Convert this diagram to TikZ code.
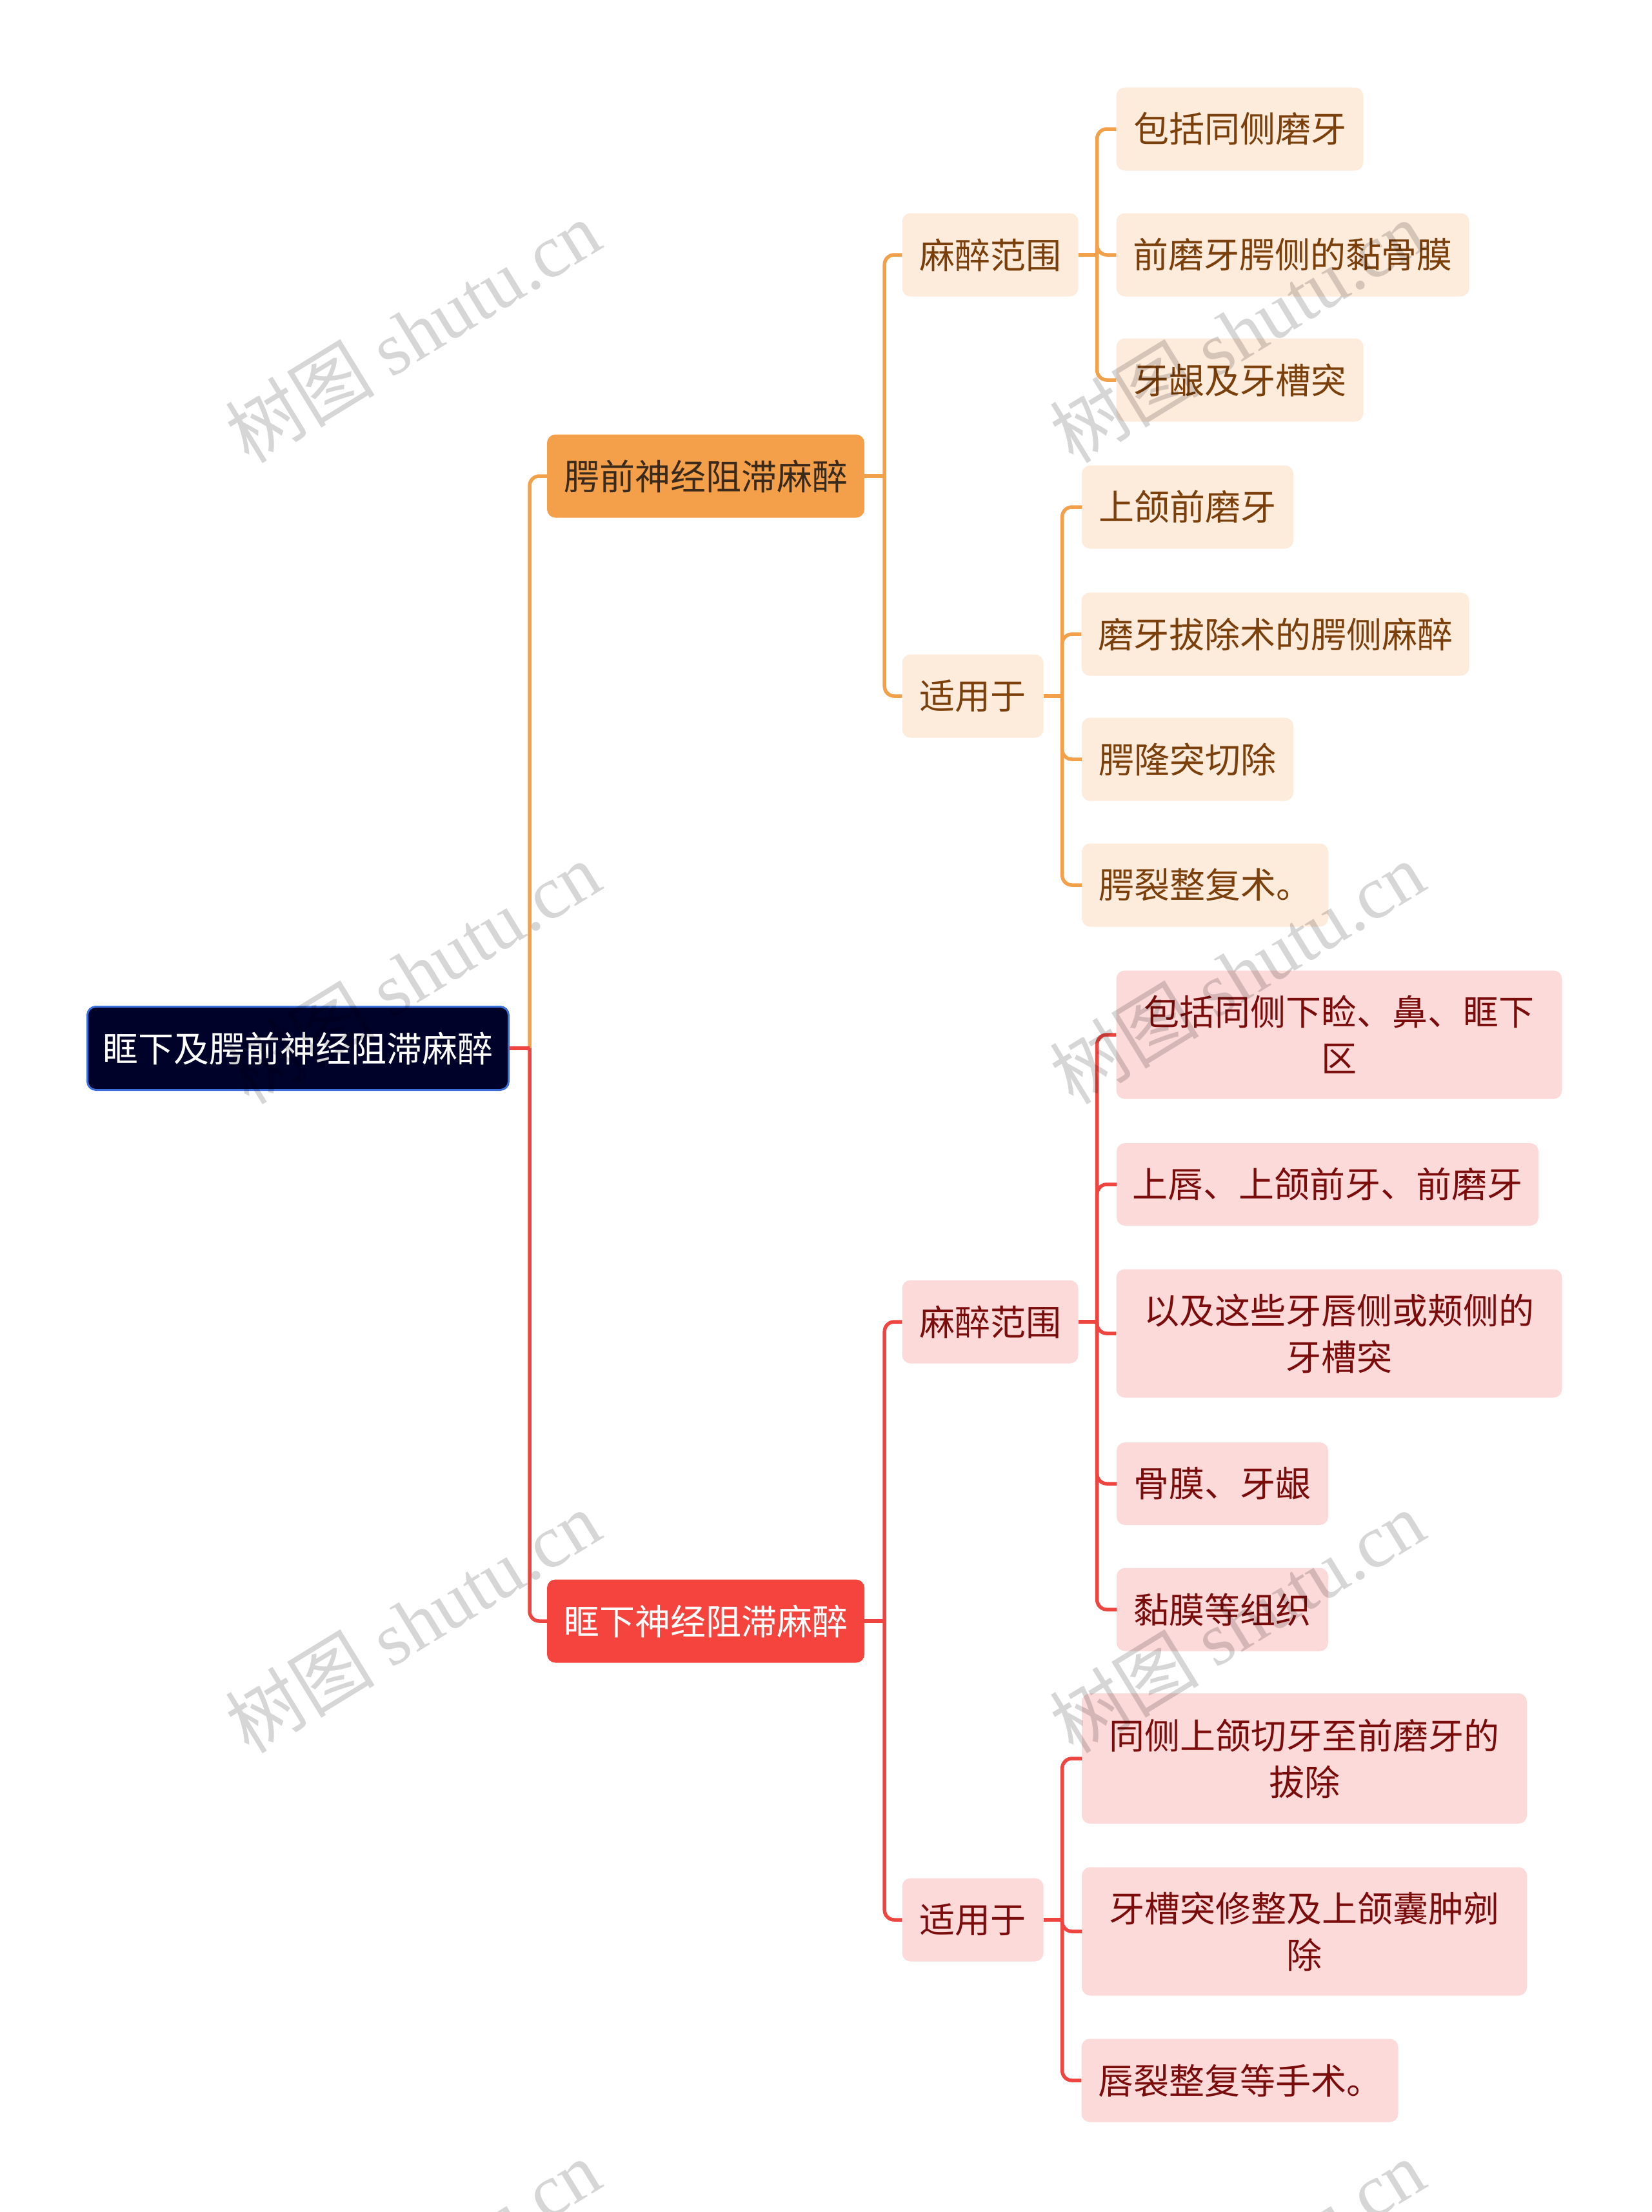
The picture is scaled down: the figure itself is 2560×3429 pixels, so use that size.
\documentclass[tikz,border=0pt]{standalone}
\usepackage{fontspec}
\setmainfont{Noto Sans CJK SC}
\newfontfamily\wmlatin{Liberation Serif}
\newfontfamily\wmcjk{Noto Sans CJK SC}
\definecolor{rootfill}{HTML}{000229}
\definecolor{rootline}{HTML}{3C6FD9}
\definecolor{orfill}{HTML}{F4A04B}
\definecolor{ortext}{HTML}{3A2A1C}
\definecolor{orleaf}{HTML}{FDEBDC}
\definecolor{orleaftext}{HTML}{7B3F0B}
\definecolor{orline}{HTML}{F3A04B}
\definecolor{rdfill}{HTML}{F5443E}
\definecolor{rdleaf}{HTML}{FDDADA}
\definecolor{rdleaftext}{HTML}{7A0C0C}
\definecolor{rdline}{HTML}{EE4540}
\tikzset{
  box/.style={rounded corners=13pt, inner sep=0pt, font=\fontsize{55}{72}\selectfont, align=center},
  rootbox/.style={box, fill=rootfill, draw=rootline, line width=3pt, text=white},
  orbranch/.style={box, fill=orfill, text=ortext},
  orleafbox/.style={box, fill=orleaf, text=orleaftext},
  rdbranch/.style={box, fill=rdfill, text=white},
  rdleafbox/.style={box, fill=rdleaf, text=rdleaftext},
  orcon/.style={draw=orline, line width=5.5pt, rounded corners=15pt},
  rdcon/.style={draw=rdline, line width=5.5pt, rounded corners=15pt},
  wm/.style={text=black, opacity=0.16, rotate=31.5, font=\fontsize{116}{116}\selectfont}
}
\newcommand{\bx}[7]{\node[#1, minimum width=#5pt, minimum height=#6pt] (#2) at (#3,#4) {#7};}
\begin{document}
\begin{tikzpicture}[x=1pt,y=-1pt]
\useasboundingbox (0,0) rectangle (2560,3429);
\fill[white] (0,0) rectangle (2560,3429);
% root
\bx{rootbox}{root}{462}{1625}{653}{129}{眶下及腭前神经阻滞麻醉}
% branches
\bx{orbranch}{b1}{1094}{738}{492}{129}{腭前神经阻滞麻醉}
\bx{rdbranch}{b2}{1094}{2513}{492}{129}{眶下神经阻滞麻醉}
% orange level 2
\bx{orleafbox}{o1}{1535}{395}{273}{129}{麻醉范围}
\bx{orleafbox}{o2}{1508}{1079}{219}{129}{适用于}
% orange leaves
\bx{orleafbox}{o11}{1922}{200}{383}{129}{包括同侧磨牙}
\bx{orleafbox}{o12}{2004}{395}{547}{129}{前磨牙腭侧的黏骨膜}
\bx{orleafbox}{o13}{1922}{589}{383}{129}{牙龈及牙槽突}
\bx{orleafbox}{o21}{1841}{786}{328}{129}{上颌前磨牙}
\bx{orleafbox}{o22}{1977}{983}{601}{129}{磨牙拔除术的腭侧麻醉}
\bx{orleafbox}{o23}{1841}{1177}{328}{129}{腭隆突切除}
\bx{orleafbox}{o24}{1868}{1372}{382}{129}{腭裂整复术。}
% red level 2
\bx{rdleafbox}{r1}{1535}{2049}{273}{129}{麻醉范围}
\bx{rdleafbox}{r2}{1508}{2976}{219}{129}{适用于}
% red leaves
\bx{rdleafbox}{r11}{2076}{1604}{691}{199}{包括同侧下睑、鼻、眶下\\区}
\bx{rdleafbox}{r12}{2058}{1836}{654}{128}{上唇、上颌前牙、前磨牙}
\bx{rdleafbox}{r13}{2076}{2067}{691}{199}{以及这些牙唇侧或颊侧的\\牙槽突}
\bx{rdleafbox}{r14}{1895}{2300}{328}{128}{骨膜、牙龈}
\bx{rdleafbox}{r15}{1895}{2495}{328}{129}{黏膜等组织}
\bx{rdleafbox}{r21}{2022}{2726}{690}{202}{同侧上颌切牙至前磨牙的\\拔除}
\bx{rdleafbox}{r22}{2022}{2994}{690}{199}{牙槽突修整及上颌囊肿剜\\除}
\bx{rdleafbox}{r23}{1922}{3225}{491}{129}{唇裂整复等手术。}
% connectors
\coordinate (jroot) at ([xshift=31pt]root.east);
\draw[orcon] (jroot) |- (b1.west);
\draw[rdcon] (jroot) |- (b2.west);
\draw[rdcon] (root.east) -- (jroot);
\draw[orcon] (b1.east) -- ++(31,0) coordinate (jb1);
\foreach \c in {o1,o2}{\draw[orcon] (jb1) |- (\c.west);}
\draw[orcon] (o1.east) -- ++(29,0) coordinate (jo1);
\foreach \c in {o11,o12,o13}{\draw[orcon] (jo1) |- (\c.west);}
\draw[orcon] (o2.east) -- ++(29,0) coordinate (jo2);
\foreach \c in {o21,o22,o23,o24}{\draw[orcon] (jo2) |- (\c.west);}
\draw[rdcon] (b2.east) -- ++(31,0) coordinate (jb2);
\foreach \c in {r1,r2}{\draw[rdcon] (jb2) |- (\c.west);}
\draw[rdcon] (r1.east) -- ++(29,0) coordinate (jr1);
\foreach \c in {r11,r12,r13,r14,r15}{\draw[rdcon] (jr1) |- (\c.west);}
\draw[rdcon] (r2.east) -- ++(29,0) coordinate (jr2);
\foreach \c in {r21,r22,r23}{\draw[rdcon] (jr2) |- (\c.west);}
% watermarks
\begin{scope}
\clip (0,0) rectangle (2560,3429);
\foreach \x/\y [count=\i] in {640/514,1918/514,640/1508,1918/1508,640/2514,1918/2514,640/3520,1918/3520}{
  \node[wm] (wm\i) at (\x,\y) {\wmcjk 树图 \wmlatin shutu.cn};
}
\end{scope}
\end{tikzpicture}
\end{document}
